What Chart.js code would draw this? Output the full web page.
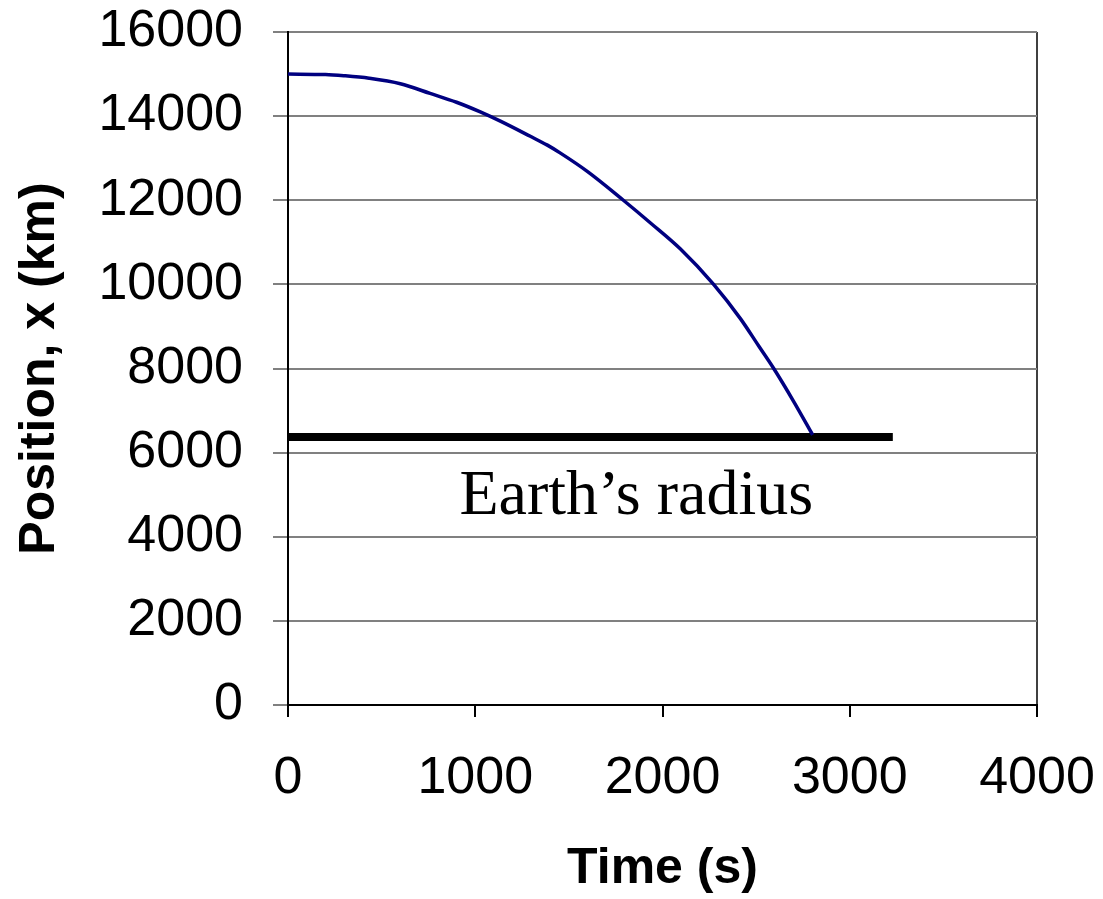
<!DOCTYPE html>
<html>
<head>
<meta charset="utf-8">
<script src="https://cdn.jsdelivr.net/npm/chart.js@4/dist/chart.umd.min.js"></script>
<style>
  html, body { margin: 0; padding: 0; background: #fff; }
  #wrap { width: 1103px; height: 899px; }
</style>
</head>
<body>
<div id="wrap"><canvas id="fallChart" width="1103" height="899"></canvas></div>
<script>
// time (s) and position (km)
const times = [0, 200, 300, 433, 600, 759, 900, 1027, 1134, 1294, 1385, 1455, 1600, 1791, 1936, 2096, 2273, 2417, 2513, 2594, 2700, 2802];
const positions = [15000, 14990, 14960, 14900, 14770, 14540, 14330, 14100, 13880, 13520, 13310, 13120, 12680, 12000, 11460, 10840, 10000, 9180, 8540, 8000, 7220, 6420];

// Earth's radius line
const radiusTimes = [0, 3230];
const radiusValues = [6371, 6371];

const xTicks = [0, 1000, 2000, 3000, 4000];
const yTicks = [0, 2000, 4000, 6000, 8000, 10000, 12000, 14000, 16000];

const fallPoints = times.map((t, i) => ({ x: t, y: positions[i] }));
const radiusPoints = radiusTimes.map((t, i) => ({ x: t, y: radiusValues[i] }));

const tickFont = { family: "'Liberation Sans', Arial, sans-serif", size: 52 };
const titleFont = { family: "'Liberation Sans', Arial, sans-serif", size: 50, weight: "bold" };

// label under the black line
const radiusLabel = {
  id: "radiusLabel",
  afterDatasetsDraw(chart) {
    const { ctx, scales } = chart;
    ctx.save();
    ctx.font = "64px 'Liberation Serif', 'Times New Roman', serif";
    ctx.fillStyle = "#000";
    ctx.textAlign = "center";
    ctx.textBaseline = "alphabetic";
    ctx.fillText("Earth\u2019s radius", scales.x.getPixelForValue(1860), scales.y.getPixelForValue(4530));
    ctx.restore();
  },
};

const config = {
  type: "line",
  data: {
    datasets: [
      {
        label: "Position",
        data: fallPoints,
        borderColor: "#000080",
        borderWidth: 3.5,
        pointRadius: 0,
        cubicInterpolationMode: "monotone",
      },
      {
        label: "Earth's radius",
        data: radiusPoints,
        borderColor: "#000",
        borderWidth: 8,
        pointRadius: 0,
        borderCapStyle: "butt",
      },
    ],
  },
  options: {
    responsive: false,
    animation: false,
    layout: { padding: { left: 0, top: 32, right: 66, bottom: 0 } },
    plugins: { legend: { display: false }, tooltip: { enabled: false } },
    scales: {
      x: {
        type: "linear",
        min: 0,
        max: 4000,
        afterBuildTicks: (scale) => { scale.ticks = xTicks.map(v => ({ value: v })); },
        afterFit: (scale) => {
          scale.height = 194;
          scale.paddingLeft = 0;
          scale.paddingRight = 0;
        },
        ticks: { font: tickFont, color: "#000", padding: 30, maxRotation: 0, callback: (v) => String(v) },
        grid: {
          color: (c) => (c.tick && c.tick.value === 4000 ? "#404040" : "rgba(0,0,0,0)"),
          lineWidth: 2,
          tickColor: "#000",
          tickLength: 12,
          drawOnChartArea: true,
        },
        border: { color: "#000", width: 2 },
        title: { display: true, text: "Time (s)", font: titleFont, color: "#000", padding: { top: 0, bottom: 0 } },
      },
      y: {
        type: "linear",
        min: 0,
        max: 16000,
        afterBuildTicks: (scale) => { scale.ticks = yTicks.map(v => ({ value: v })); },
        afterFit: (scale) => {
          scale.width = 288;
          scale.paddingTop = 0;
          scale.paddingBottom = 0;
        },
        ticks: { font: tickFont, color: "#000", padding: 30, callback: (v) => String(v) },
        grid: { color: "#808080", lineWidth: 2, tickColor: "#808080", tickLength: 15 },
        border: { color: "#000", width: 2 },
        title: { display: true, text: "Position, x (km)", font: titleFont, color: "#000", padding: { top: 10, bottom: 0 } },
      },
    },
  },
  plugins: [radiusLabel],
};

const myChart = new Chart(document.getElementById("fallChart"), config);
</script>
</body>
</html>
